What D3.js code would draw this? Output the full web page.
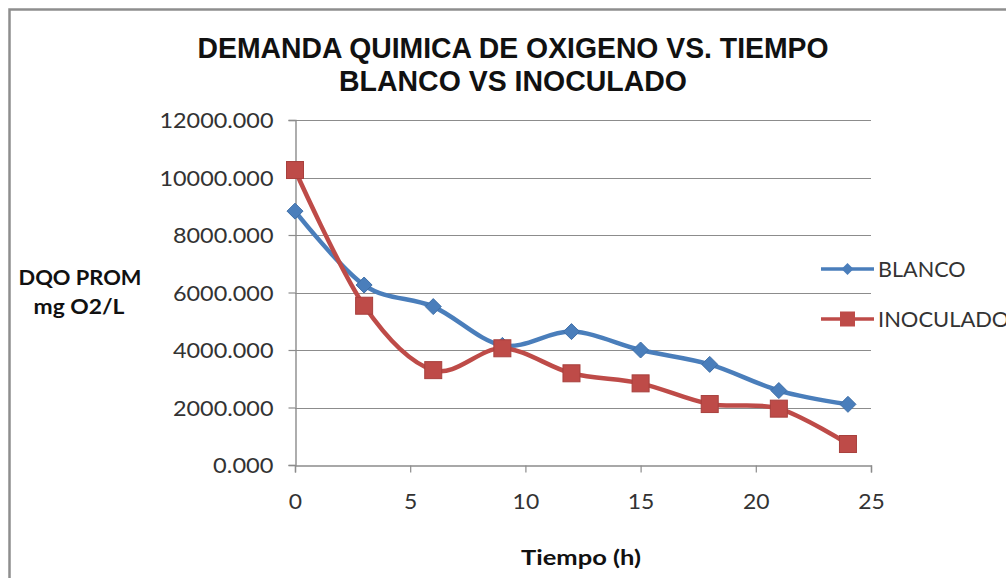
<!DOCTYPE html>
<html>
<head>
<meta charset="utf-8">
<script src="https://cdn.jsdelivr.net/npm/d3@7"></script>
<style>
  html, body { margin: 0; padding: 0; background: #fff; }
  svg { display: block; }
</style>
</head>
<body>
<svg id="chart" width="1006" height="578"></svg>
<script>
// ---- data ----
const tiempo = [0, 3, 6, 9, 12, 15, 18, 21, 24];
const blanco = [8830, 6260, 5510, 4160, 4640, 4000, 3500, 2590, 2110];
const inoculado = [10260, 5540, 3300, 4060, 3190, 2840, 2120, 1960, 730];
const seriesNames = ["BLANCO", "INOCULADO"];
const yTicks = [0, 2000, 4000, 6000, 8000, 10000, 12000];
const xTicks = [0, 5, 10, 15, 20, 25];
const titleLines = ["DEMANDA QUIMICA DE OXIGENO VS. TIEMPO", "BLANCO VS INOCULADO"];
const yLabelLines = ["DQO PROM", "mg O2/L"];
const xLabel = "Tiempo  (h)";

// ---- layout ----
const svg = d3.select("#chart");
const W = 1006, H = 578;
const plot = { left: 295, right: 871, top: 120, bottom: 465 };
const blue = "#4a7ebb", red = "#be4b48";
const gridCol = "#8c8c8c";
const bodyFont = "Lato, 'Open Sans', 'Liberation Sans', Arial, sans-serif";

svg.append("rect").attr("width", W).attr("height", H).attr("fill", "#fff");
// chart frame (extends past right/bottom edge)
svg.append("rect").attr("x", 9.5).attr("y", 9.5).attr("width", W + 20).attr("height", H + 20)
  .attr("fill", "none").attr("stroke", "#8e8e8e").attr("stroke-width", 2.5);

const x = d3.scaleLinear().domain([0, 25]).range([plot.left, plot.right]);
const y = d3.scaleLinear().domain([0, 12000]).range([plot.bottom, plot.top]);

function charWidth(s, digitW, dotW, spaceW) {
  let w = 0;
  for (const c of s) w += (c === "." ? dotW : c === " " ? spaceW : digitW);
  return w;
}

// gridlines
svg.append("g").selectAll("line").data(yTicks.filter(d => d > 0)).join("line")
  .attr("x1", plot.left).attr("x2", plot.right)
  .attr("y1", d => Math.round(y(d)) + 0.5).attr("y2", d => Math.round(y(d)) + 0.5)
  .attr("stroke", gridCol).attr("stroke-width", 1.2);

// y axis
const yAxis = svg.append("g").attr("transform", `translate(${plot.left + 0.5},0)`)
  .call(d3.axisLeft(y).tickValues(yTicks).tickSize(7).tickFormat(d => d3.format(".3f")(d)));
yAxis.select(".domain").attr("stroke", gridCol).attr("stroke-width", 1.4);
yAxis.selectAll(".tick line").attr("stroke", gridCol).attr("stroke-width", 1.2);
yAxis.selectAll(".tick text")
  .attr("x", -22).attr("dy", "0.36em")
  .attr("font-family", bodyFont).attr("font-size", 21).attr("fill", "#333")
  .attr("textLength", function() { return charWidth(this.textContent, 13.4, 6.8, 6); })
  .attr("lengthAdjust", "spacingAndGlyphs");

// x axis
const xAxis = svg.append("g").attr("transform", `translate(0,${plot.bottom + 0.5})`)
  .call(d3.axisBottom(x).tickValues(xTicks).tickSize(7).tickFormat(d3.format("d")));
xAxis.select(".domain").attr("stroke", gridCol).attr("stroke-width", 1.4);
xAxis.selectAll(".tick line").attr("stroke", gridCol).attr("stroke-width", 1.2);
xAxis.selectAll(".tick text")
  .attr("y", 36).attr("dy", "0.36em")
  .attr("font-family", bodyFont).attr("font-size", 21).attr("fill", "#333")
  .attr("textLength", function() { return charWidth(this.textContent, 13.3, 6.8, 6); })
  .attr("lengthAdjust", "spacingAndGlyphs");

// lines
const curve = d3.curveCardinal.tension(0);
const line = d3.line().x(d => x(d[0])).y(d => y(d[1])).curve(curve);
const series = [
  { name: seriesNames[0], values: tiempo.map((t, i) => [t, blanco[i]]), color: blue, marker: "diamond" },
  { name: seriesNames[1], values: tiempo.map((t, i) => [t, inoculado[i]]), color: red, marker: "square" }
];

series.forEach(s => {
  svg.append("path").datum(s.values).attr("d", line)
    .attr("fill", "none").attr("stroke", s.color).attr("stroke-width", 4.5)
    .attr("stroke-linejoin", "round").attr("stroke-linecap", "round");
});
series.forEach(s => {
  const g = svg.append("g");
  if (s.marker === "diamond") {
    g.selectAll("path").data(s.values).join("path")
      .attr("transform", d => `translate(${x(d[0])},${y(d[1])})`)
      .attr("d", "M0,-8L8,0L0,8L-8,0Z")
      .attr("fill", s.color).attr("stroke", "#3f6fa8").attr("stroke-width", 1);
  } else {
    g.selectAll("rect").data(s.values).join("rect")
      .attr("x", d => x(d[0]) - 8.5).attr("y", d => y(d[1]) - 8.5)
      .attr("width", 17).attr("height", 17)
      .attr("fill", s.color).attr("stroke", "#a8403d").attr("stroke-width", 1);
  }
});

// legend
const legendY = [269, 319];
series.forEach((s, i) => {
  const ly = legendY[i];
  const g = svg.append("g");
  g.append("line").attr("x1", 821).attr("x2", 874).attr("y1", ly).attr("y2", ly)
    .attr("stroke", s.color).attr("stroke-width", 3.5);
  if (s.marker === "diamond") {
    g.append("path").attr("transform", `translate(847.5,${ly})`)
      .attr("d", "M0,-6L6,0L0,6L-6,0Z").attr("fill", s.color);
  } else {
    g.append("rect").attr("x", 840).attr("y", ly - 7.5).attr("width", 15).attr("height", 15)
      .attr("fill", s.color);
  }
  g.append("text").attr("x", 878).attr("y", ly).attr("dy", "0.36em")
    .attr("font-family", bodyFont).attr("font-size", 21).attr("fill", "#333")
    .attr("textLength", s.name.length * 14.6).attr("lengthAdjust", "spacingAndGlyphs")
    .text(s.name);
});

// title
const titleWidths = [631, 348];
const titleBase = [58, 91];
titleLines.forEach((t, i) => {
  svg.append("text").attr("x", 513).attr("y", titleBase[i]).attr("text-anchor", "middle")
    .attr("font-family", "'Liberation Sans Narrow', 'Arial Narrow', 'Liberation Sans', Arial, sans-serif")
    .attr("font-weight", "bold").attr("font-size", 29).attr("fill", "#111")
    .attr("textLength", titleWidths[i]).attr("lengthAdjust", "spacingAndGlyphs")
    .text(t);
});

// y axis label
const yLabX = [80, 79], yLabBase = [285, 314], yLabW = [123, 91];
yLabelLines.forEach((t, i) => {
  svg.append("text").attr("x", yLabX[i]).attr("y", yLabBase[i]).attr("text-anchor", "middle")
    .attr("font-family", bodyFont).attr("font-weight", "bold").attr("font-size", 21).attr("fill", "#111")
    .attr("textLength", yLabW[i]).attr("lengthAdjust", "spacingAndGlyphs")
    .text(t);
});

// x axis label
svg.append("text").attr("x", 581).attr("y", 565).attr("text-anchor", "middle")
  .attr("font-family", bodyFont).attr("font-weight", "bold").attr("font-size", 21).attr("fill", "#111")
  .attr("textLength", 120).attr("lengthAdjust", "spacingAndGlyphs")
  .text(xLabel);
</script>
</body>
</html>
